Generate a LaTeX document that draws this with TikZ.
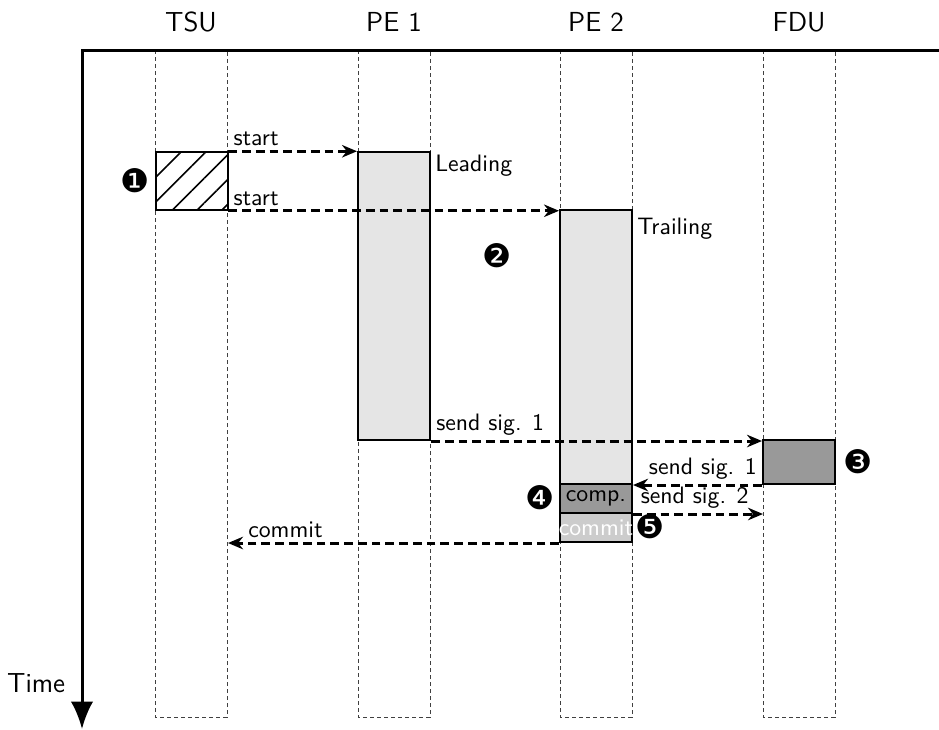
\documentclass[tikz,border=0pt]{standalone}
\usepackage{fontspec}
\newfontfamily\dingfont{DejaVu Sans}
\usetikzlibrary{arrows.meta,patterns.meta,positioning}

\begin{document}
\begin{tikzpicture}[x=0.4pt,y=-0.4pt,font=\sffamily,
  lane/.style={draw=black!75,dashed,dash pattern=on 1.6pt off 1.2pt,line width=0.3pt},
  unit/.style={font=\sffamily\fontsize{11}{13}\selectfont},
  box/.style={draw,line width=0.8pt,minimum width=28.8pt,inner sep=0pt},
  msg/.style={line width=1.2pt,dash pattern=on 3.5pt off 2pt,-{Stealth[length=6pt,width=5pt]}},
  lbl/.style={font=\sffamily\fontsize{9.5}{11}\selectfont,inner sep=1.5pt},
  num/.style={font=\dingfont\fontsize{13}{13}\selectfont,inner sep=0pt}]
\useasboundingbox (0,0) rectangle (939,729);
% lanes and their headers
\foreach \x/\name/\txt in {155/tsu/TSU,358/pea/PE 1,560/peb/PE 2,763/fdu/FDU}{
  \draw[lane] (\x,50) rectangle (\x+72,717);
  \node (h\name) [unit] at (\x+36,22) {\txt};
}
% time axis
\draw[line width=1.2pt,-{Latex[length=11pt,width=9pt]}] (939,50) -- (82,50) -- (82,729);
\node (time) [unit,anchor=east] at (74,683) {Time};
% boxes
\node (tsubox) [box,minimum height=23.2pt,pattern={Lines[angle=45,distance=7pt,line width=0.6pt]}] at (191.5,181) {};
\node (lead) [box,minimum height=115.2pt,fill=gray!20] at (394,296) {};
\node (trail) [box,minimum height=109.6pt,fill=gray!20] at (596,347) {};
\node (comp) [box,minimum height=11.6pt,fill=gray!80] at (596,498.5) {};
\node (commit) [box,minimum height=11.6pt,fill=gray!40] at (596,527.5) {};
\node (fdubox) [box,minimum height=17.6pt,fill=gray!80] at (799,462) {};
\node (comptxt) [lbl] at (comp) {comp.};
\node (committxt) [lbl,text=white] at (commit) {commit};
\node (leadtxt) [lbl,anchor=north west] at (lead.north east) {Leading};
\node (trailtxt) [lbl,anchor=north west,yshift=-2pt] at (trail.north east) {Trailing};
% messages
\coordinate (tsuend) at (228,542);
\coordinate (fduin) at (763,513);
\draw[msg] (tsubox.north east) -- node[lbl,pos=0,anchor=south west]{start} (tsubox.north east -| lead.west);
\draw[msg] (tsubox.south east) -- node[lbl,pos=0,anchor=south west]{start} (tsubox.south east -| trail.west);
\draw[msg] (lead.south east) -- node[lbl,pos=0,anchor=south west]{send sig. 1} (lead.south east -| fdubox.west);
\draw[msg] (fdubox.south west) -- node[lbl,pos=0,anchor=south east]{send sig. 1} (fdubox.south west -| trail.east);
\draw[msg] (comp.south east) -- node[lbl,pos=0,anchor=south west,xshift=1pt]{send sig. 2} (comp.south east -| fduin);
\draw[msg] (commit.south west) -- node[lbl,pos=1,anchor=south west,xshift=6pt]{commit} (commit.south west -| tsuend);
% steps
\node (one) [num] at (135,181) {❶};
\node (two) [num] at (497,256) {❷};
\node (three) [num] at (858,462) {❸};
\node (four) [num] at (540,498) {❹};
\node (five) [num] at (650,527) {❺};
\end{tikzpicture}
\end{document}
